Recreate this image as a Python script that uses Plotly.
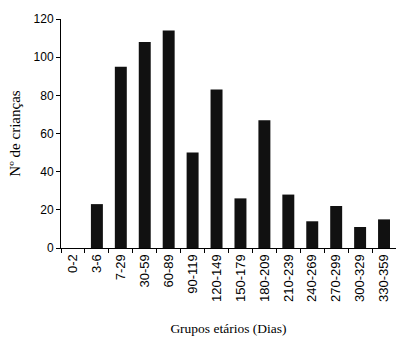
import plotly.graph_objects as go

categories = ["0-2", "3-6", "7-29", "30-59", "60-89", "90-119", "120-149", "150-179",
              "180-209", "210-239", "240-269", "270-299", "300-329", "330-359"]
counts = [0, 23, 95, 108, 114, 50, 83, 26, 67, 28, 14, 22, 11, 15]

fig = go.Figure(go.Bar(x=categories, y=counts, marker=dict(color="#111111", line=dict(width=0))))

fig.update_layout(
    width=396, height=340,
    margin=dict(l=61, r=0, t=19, b=92),
    paper_bgcolor="white", plot_bgcolor="white",
    bargap=0.5, showlegend=False,
    font=dict(family="Arial", size=11, color="black"),
)
fig.update_xaxes(
    type="category", tickson="boundaries", ticks="outside", ticklen=4, tickcolor="black",
    showline=True, linecolor="black", linewidth=1, tickangle=-90,
    tickfont=dict(size=13), showgrid=False,
    title=dict(text="Grupos etários (Dias)", font=dict(family="Liberation Serif, Times New Roman", size=13.5), standoff=22),
)
fig.update_yaxes(
    range=[0, 120], dtick=20, ticks="outside", ticklen=4, tickcolor="black",
    showline=True, linecolor="black", linewidth=1, showgrid=False, zeroline=False,
    tickfont=dict(size=12),
    title=dict(text="Nº de crianças", font=dict(family="Liberation Serif, Times New Roman", size=15), standoff=9),
)
fig.write_html("out.html")
